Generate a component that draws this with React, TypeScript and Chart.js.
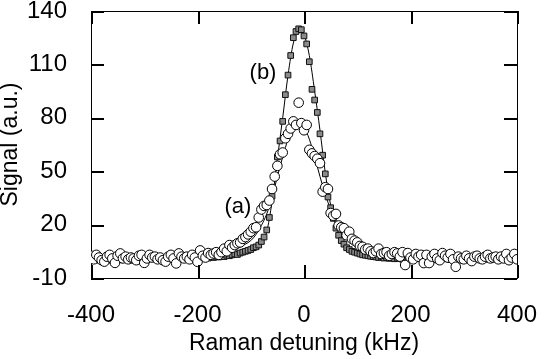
import React, { useEffect, useRef } from 'react';
import { Chart, registerables } from 'chart.js';

Chart.register(...registerables);

const FONT = "'Liberation Sans', Arial, Helvetica, sans-serif";

// x grid of measured points (kHz)
const detuning = [
  -400, -395, -390, -385, -380, -375, -370, -365, -360, -355,
  -350, -345, -340, -335, -330, -325, -320, -315, -310, -305,
  -300, -295, -290, -285, -280, -275, -270, -265, -260, -255,
  -250, -245, -240, -235, -230, -225, -220, -215, -210, -205,
  -200, -195, -190, -185, -180, -175, -170, -165, -160, -155,
  -150, -145, -140, -135, -130, -125, -120, -115, -110, -105,
  -100, -95, -90, -85, -80, -75, -70, -65, -60, -55,
  -50, -45, -40, -35, -30, -25, -20, -15, -10, -5,
  0, 5, 10, 15, 20, 25, 30, 35, 40, 45,
  50, 55, 60, 65, 70, 75, 80, 85, 90, 95,
  100, 105, 110, 115, 120, 125, 130, 135, 140, 145,
  150, 155, 160, 165, 170, 175, 180, 185, 190, 195,
  200, 205, 210, 215, 220, 225, 230, 235, 240, 245,
  250, 255, 260, 265, 270, 275, 280, 285, 290, 295,
  300, 305, 310, 315, 320, 325, 330, 335, 340, 345,
  350, 355, 360, 365, 370, 375, 380, 385, 390, 395,
  400,
];

// series (a): open circles
const signalA = [
  2.5, 0.5, 3.0, 1.5, 0.0, -0.8, 2.0, 3.0, 1.0, -1.5,
  2.5, 3.8, 1.0, 2.0, 0.5, 1.5, 1.0, 0.0, 2.5, 3.0,
  -1.5, 1.0, 3.0, 1.5, 2.0, 0.5, 1.5, 0.0, -0.8, 2.0,
  3.0, 1.0, -1.8, 3.8, 2.0, 1.0, 2.0, 0.5, 3.0, 1.5,
  -0.9, 5.5, 2.5, 1.5, 4.0, 3.0, 3.8, 4.5, 3.0, 4.5,
  6.5, 5.0, 8.5, 7.0, 8.5, 9.5, 10.0, 12.0, 13.0, 14.5,
  16.0, 18.0, 18.5, 24.0, 28.5, 30.5, 31.0, 33.5, 40.0, 47.0,
  53.0, 59.5, 60.5, 68.5, 71.0, 74.0, 78.0, 76.0, 88.5, 77.0,
  73.0, 76.0, 62.0, 60.0, 58.5, 57.0, 54.5, 38.5, 41.0, 40.0,
  26.5, 25.0, 26.0, 19.5, 18.5, 18.0, 14.0, 16.0, 12.0, 11.0,
  10.0, 8.0, 7.5, 6.0, 6.5, 5.0, 4.0, 5.0, 6.5, 3.5,
  4.0, 4.5, 2.5, 3.5, 4.5, 3.8, 2.0, 4.5, -2.7, 4.0,
  1.5, 0.5, 3.5, 2.0, 3.0, -1.6, 3.0, -1.6, 2.0, 3.5,
  1.0, 0.0, 4.0, 2.5, 1.5, 3.5, 0.5, -3.7, 2.0, 1.0,
  0.5, 2.5, 1.0, -0.5, 2.0, 2.5, 1.0, 0.5, 2.0, 3.0,
  1.0, 1.5, 2.0, 0.5, 2.0, 1.0, 3.5, 0.0, 1.5, 3.5,
  0.5,
];

// series (b): small squares
const signalB = [
  1.0, 0.5, 1.5, 0.0, 1.0, 0.5, 1.2, 0.0, 1.0, 0.8,
  1.5, 0.2, 1.0, 0.5, 1.2, 0.8, 0.0, 1.0, 1.5, 0.5,
  1.0, 0.3, 1.2, 0.8, 1.5, 0.5, 1.0, 0.2, 1.3, 0.8,
  1.0, 0.5, 1.5, 0.8, 1.2, 1.0, 0.5, 1.5, 1.0, 1.2,
  0.8, 1.5, 1.0, 1.8, 1.2, 2.0, 1.5, 2.2, 1.8, 2.5,
  2.0, 2.8, 2.5, 3.0, 3.5, 3.2, 4.0, 4.5, 5.0, 5.5,
  6.0, 7.0, 7.5, 8.5, 10.5, 13.0, 17.0, 24.0, 36.0, 47.5,
  58.0, 67.0, 78.0, 93.0, 104.0, 115.0, 125.0, 128.5, 130.0, 129.5,
  126.0, 121.5, 111.5, 96.0, 90.0, 83.0, 71.0, 59.0, 48.5, 35.5,
  29.5, 23.5, 18.0, 14.0, 11.0, 9.0, 7.0, 6.0, 5.0, 4.5,
  4.0, 3.5, 3.0, 2.8, 2.5, 2.2, 2.0, 1.8, 1.5, 1.8,
  1.2, 1.5, 1.0, 1.5, 0.8, 1.2, 1.0, 0.5, 1.2, 0.8,
  1.5, 0.5, 1.0, 0.8, 1.3, 0.5, 1.0, 1.5, 0.8, 1.2,
  0.5, 1.0, 1.5, 0.8, 1.0, 0.3, 1.2, 0.8, 1.5, 1.0,
  0.5, 1.2, 1.0, 0.5, 1.5, 0.8, 1.0, 1.3, 0.5, 1.0,
  1.5, 0.8, 1.0, 0.5, 1.2, 1.0, 0.5, 1.5, 1.0, 0.8,
  1.2,
];

// fit curves
const fitDetuning = [
  -400, -350, -300, -250, -200, -175, -150, -130, -110, -100,
  -90, -80, -70, -60, -50, -40, -30, -20, -10, -5,
  0, 10, 20, 30, 40, 50, 60, 70, 80, 90,
  100, 110, 130, 150, 175, 200, 250, 300, 350, 400,
];
const fitA = [
  1.5, 1.7, 2.0, 2.4, 3.2, 3.8, 4.8, 6.2, 9.0, 11.0,
  14.5, 19.5, 26, 35, 47, 58, 68, 75, 77.5, 77,
  75, 68, 58, 47, 37, 28.5, 22, 17, 13.5, 11,
  9.2, 7.8, 5.8, 4.5, 3.5, 2.9, 2.2, 1.9, 1.7, 1.5,
];
const fitB = [
  0.8, 0.9, 1.0, 1.2, 1.5, 1.8, 2.0, 2.6, 3.6, 4.5,
  6, 9, 16, 33, 57, 80, 104, 122, 129.5, 130,
  127, 115, 95, 73, 49, 31, 19, 12, 8, 5.5,
  4.2, 3.4, 2.4, 1.8, 1.4, 1.2, 1.0, 0.9, 0.8, 0.8,
];

// axis ticks
const xTicks = [-400, -200, 0, 200, 400];
const yTicks = [-10, 20, 50, 80, 110, 140];
const xMin = -400, xMax = 400, xStep = 200;
const yMin = -10, yMax = 140, yStep = 30;

// curve labels
const labelTexts = ['(a)', '(b)'];
const labelX = [-124, -77];
const labelY = [30, 105];

const pts = (xs: number[], ys: number[]) => xs.map((x, i) => ({ x, y: ys[i] }));

const TICK_LEN = 13;
const TICK_W = 2;

// inward tick marks on all four sides + curve labels, all placed through the scales
const decorations = {
  id: 'decorations',
  afterDatasetsDraw(chart: any) {
    const ctx = chart.ctx;
    const sx = chart.scales.x;
    const sy = chart.scales.y;
    const L = Math.round(sx.getPixelForValue(xMin));
    const R = Math.round(sx.getPixelForValue(xMax));
    const T = Math.round(sy.getPixelForValue(yMax));
    const B = Math.round(sy.getPixelForValue(yMin));

    ctx.save();
    ctx.fillStyle = '#000000';
    for (let i = 0; i < xTicks.length; i++) {
      const px = Math.round(sx.getPixelForValue(xTicks[i]));
      ctx.fillRect(px, B - TICK_LEN, TICK_W, TICK_LEN);
      ctx.fillRect(px, T, TICK_W, TICK_LEN);
    }
    for (let i = 0; i < yTicks.length; i++) {
      const py = Math.round(sy.getPixelForValue(yTicks[i]));
      ctx.fillRect(L, py, TICK_LEN, TICK_W);
      ctx.fillRect(R - TICK_LEN, py, TICK_LEN, TICK_W);
    }
    ctx.restore();

    ctx.save();
    ctx.font = `22px ${FONT}`;
    ctx.fillStyle = '#000';
    ctx.textAlign = 'center';
    ctx.textBaseline = 'middle';
    for (let i = 0; i < labelTexts.length; i++) {
      ctx.fillText(labelTexts[i], sx.getPixelForValue(labelX[i]), sy.getPixelForValue(labelY[i]));
    }
    ctx.restore();
  },
};

export default function App() {
  const ref = useRef<HTMLCanvasElement | null>(null);

  useEffect(() => {
    document.body.style.margin = '0';
    if (!ref.current) return;
    const grid = { display: false };
    const border = { display: true, color: '#000', width: 1 };
    const tickFont = { family: FONT, size: 24 };
    const chart = new Chart(ref.current, {
      type: 'scatter',
      data: {
        datasets: [
          {
            label: '(a) data',
            data: pts(detuning, signalA),
            pointStyle: 'circle',
            pointRadius: 4.8,
            borderWidth: 1,
            borderColor: '#000',
            backgroundColor: '#fff',
            showLine: false,
            order: 1,
          },
          {
            label: '(b) data',
            data: pts(detuning, signalB),
            pointStyle: 'rect',
            pointRadius: 4,
            borderWidth: 1,
            borderColor: '#111',
            backgroundColor: '#8a8a8a',
            showLine: false,
            order: 2,
          },
          {
            label: '(a) fit',
            data: pts(fitDetuning, fitA),
            showLine: true,
            pointRadius: 0,
            borderColor: '#000',
            borderWidth: 1,
            cubicInterpolationMode: 'monotone',
            order: 3,
          },
          {
            label: '(b) fit',
            data: pts(fitDetuning, fitB),
            showLine: true,
            pointRadius: 0,
            borderColor: '#000',
            borderWidth: 1,
            cubicInterpolationMode: 'monotone',
            order: 4,
          },
        ],
      },
      options: {
        animation: false,
        responsive: true,
        maintainAspectRatio: false,
        devicePixelRatio: 1,
        layout: { padding: { top: 11, right: 28, left: 0, bottom: 0 } },
        plugins: { legend: { display: false }, tooltip: { enabled: false } },
        scales: {
          x: {
            type: 'linear',
            position: 'bottom',
            min: xMin,
            max: xMax,
            border,
            grid,
            ticks: { stepSize: xStep, autoSkip: false, maxRotation: 0, color: '#000', font: tickFont, padding: 15 },
            title: {
              display: true,
              text: 'Raman detuning (kHz)',
              color: '#000',
              font: { family: FONT, size: 23 },
              padding: { top: 0, bottom: 2 },
            },
            afterFit: (s: any) => {
              s.height = 81;
              s.paddingLeft = 0;
              s.paddingRight = 0;
            },
          },
          x2: {
            type: 'linear',
            position: 'top',
            min: xMin,
            max: xMax,
            border,
            grid,
            ticks: { stepSize: xStep, display: false },
            afterFit: (s: any) => {
              s.height = 0;
              s.paddingLeft = 0;
              s.paddingRight = 0;
            },
          },
          y: {
            type: 'linear',
            position: 'left',
            min: yMin,
            max: yMax,
            border,
            grid,
            ticks: { stepSize: yStep, autoSkip: false, color: '#000', font: tickFont, padding: 16 },
            title: {
              display: true,
              text: 'Signal (a.u.)',
              color: '#000',
              font: { family: FONT, size: 23, lineHeight: 0.9 },
              padding: { top: 0, bottom: 0 },
            },
            afterFit: (s: any) => {
              s.width = 91;
              s.paddingTop = 0;
              s.paddingBottom = 0;
            },
          },
          y2: {
            type: 'linear',
            position: 'right',
            min: yMin,
            max: yMax,
            border,
            grid,
            ticks: { stepSize: yStep, display: false },
            afterFit: (s: any) => {
              s.width = 0;
              s.paddingTop = 0;
              s.paddingBottom = 0;
            },
          },
        },
      },
      plugins: [decorations],
    } as any);
    return () => chart.destroy();
  }, []);

  return (
    <div style={{ position: 'relative', width: 545, height: 359 }}>
      <canvas ref={ref} />
    </div>
  );
}
